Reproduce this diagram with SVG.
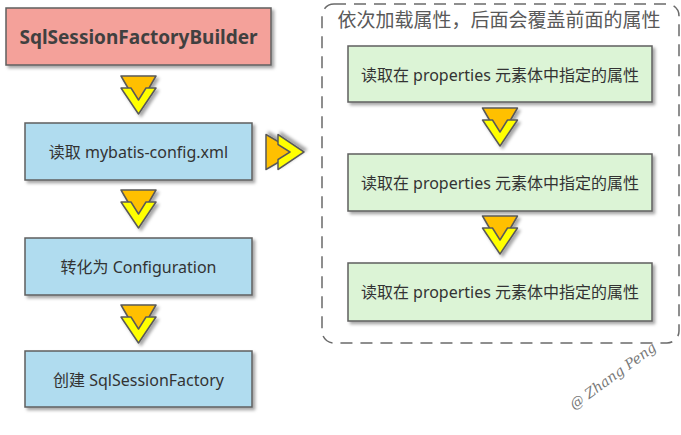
<svg xmlns="http://www.w3.org/2000/svg" width="681" height="435" viewBox="0 0 681 435">
<defs>
<filter id="sh" x="-10%" y="-10%" width="130%" height="140%">
<feDropShadow dx="2.5" dy="2.5" stdDeviation="1.5" flood-color="#000" flood-opacity="0.35"/>
</filter>
<g id="down">
<polygon points="-17.5,0 17.5,0 0,30" fill="#FFC000" stroke="#595959" stroke-width="1.5" stroke-linejoin="round"/>
<polygon points="-17.5,12 -7.5,12 0,24 7.5,12 17.5,12 0,38" fill="#FFFF00" stroke="#595959" stroke-width="1.5" stroke-linejoin="round"/>
</g>
</defs>
<style>
.box{stroke:#5f5f5f;stroke-width:1.5;filter:url(#sh)}
.red{fill:#F4A19A}
.blue{fill:#B0DCEF}
.green{fill:#DCF4D6}
.t{font-family:"Noto Sans","Noto Sans CJK SC",sans-serif;font-size:16px;fill:#333;text-anchor:middle;dominant-baseline:central}
.arr{filter:url(#sh)}
</style>
<g id="container">
<rect x="322" y="4" width="357" height="339" rx="12" ry="12" fill="none" stroke="#6a6a6a" stroke-width="1.5" stroke-dasharray="12,8"/>
<text x="499" y="20" class="t" style="font-size:19px;fill:#595959">依次加载属性，后面会覆盖前面的属性</text>
</g>
<g id="builder">
<rect x="6" y="8" width="265" height="57" class="box red"/>
<text x="138.5" y="37" class="t" style="font-weight:bold;font-size:19px;fill:#404040">SqlSessionFactoryBuilder</text>
</g>
<g id="read-config">
<rect x="25" y="123" width="227" height="57" class="box blue"/>
<text x="138.5" y="152" class="t">读取 mybatis-config.xml</text>
</g>
<g id="to-config">
<rect x="25" y="238" width="227" height="57" class="box blue"/>
<text x="138.5" y="267" class="t">转化为 Configuration</text>
</g>
<g id="create-factory">
<rect x="25" y="351" width="227" height="56" class="box blue"/>
<text x="138.5" y="380" class="t">创建 SqlSessionFactory</text>
</g>
<g id="prop1">
<rect x="348" y="46" width="304" height="56" class="box green"/>
<text x="500" y="75" class="t">读取在 properties 元素体中指定的属性</text>
</g>
<g id="prop2">
<rect x="348" y="154" width="304" height="57" class="box green"/>
<text x="500" y="183" class="t">读取在 properties 元素体中指定的属性</text>
</g>
<g id="prop3">
<rect x="348" y="263" width="304" height="58" class="box green"/>
<text x="500" y="292" class="t">读取在 properties 元素体中指定的属性</text>
</g>
<g id="connectors">
<use href="#down" x="138.5" y="76" class="arr"/>
<use href="#down" x="138.5" y="190" class="arr"/>
<use href="#down" x="138.5" y="305" class="arr"/>
<use href="#down" x="500" y="108" class="arr"/>
<use href="#down" x="500" y="216" class="arr"/>
<use href="#down" transform="translate(266,152) rotate(-90)" class="arr"/>
</g>
<text x="0" y="0" transform="translate(574,410) rotate(-36)" style="font-family:'DejaVu Serif',serif;font-style:italic;font-size:14px;fill:#777">@ Zhang Peng</text>
</svg>
